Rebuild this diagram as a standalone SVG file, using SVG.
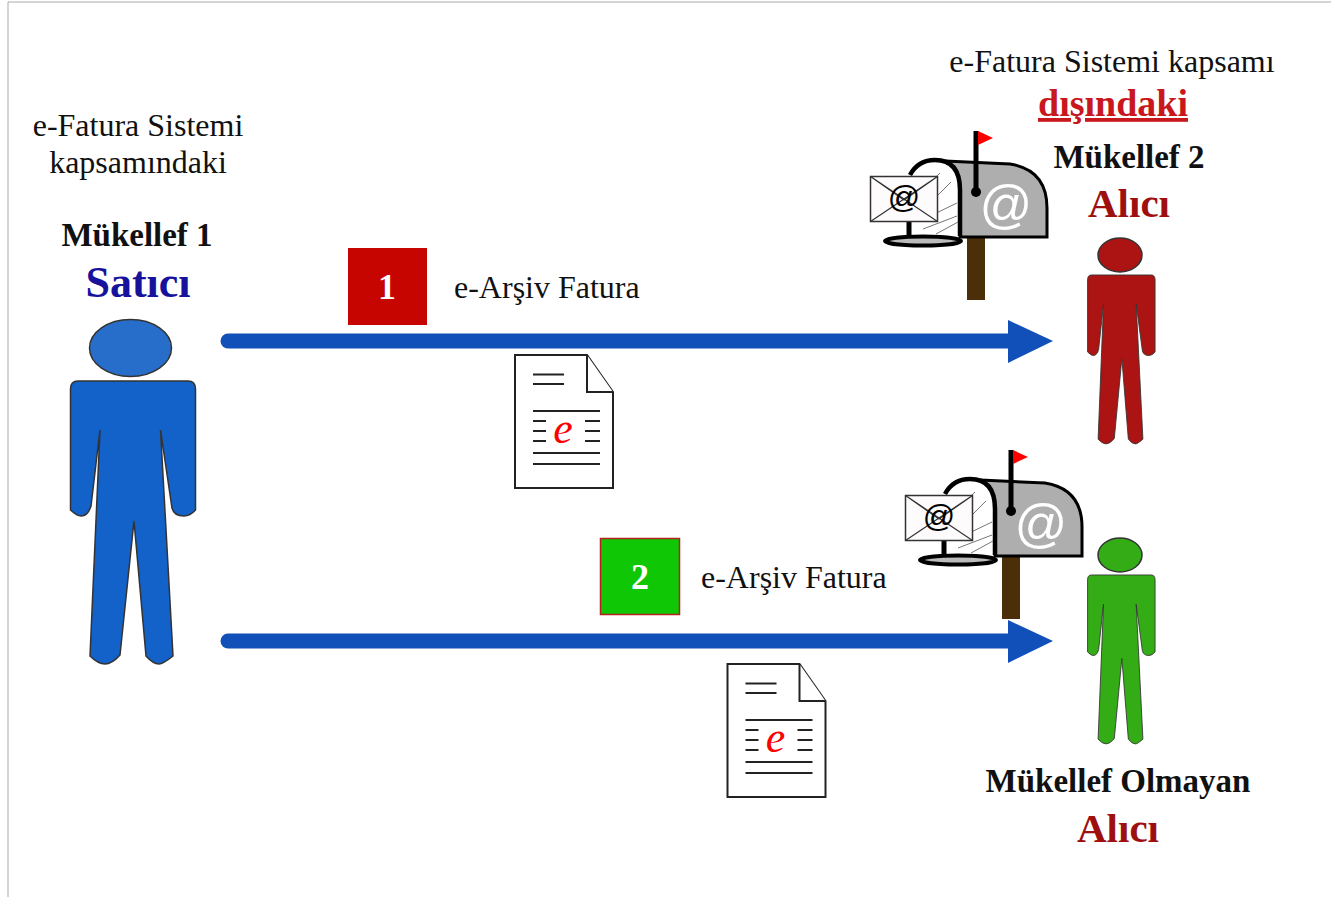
<svg xmlns="http://www.w3.org/2000/svg" xmlns:xlink="http://www.w3.org/1999/xlink" width="1331" height="897" viewBox="0 0 1331 897">
<style>
text{font-family:"Liberation Serif","Times New Roman",serif;fill:#111}
.m{text-anchor:middle}
.b{font-weight:bold}
.lab{font-size:32px}
.per{stroke:#333;stroke-width:1.5;vector-effect:non-scaling-stroke}
.doc{fill:#fff;stroke:#222;stroke-width:2}
.ln{stroke:#222;stroke-width:2;fill:none}
.arrow{stroke:#1150b8;stroke-width:15;stroke-linecap:round;fill:none}
.head{fill:#1150b8}
</style>
<defs>
<path id="body" d="M78,381H188Q195.5,381 195.5,389V510Q190,516 184,516Q174,516 172,508L160.500,430L173,656Q163,664 159,664Q153,664 146,656L134,521L120,655Q112,664 105,664Q98,664 90,656L100,430L91,506Q88,516 81,516Q77,516 70.500,510V389Q70.500,381 78,381Z"/>
<g id="mailbox">
<rect x="967" y="238" width="18" height="62" fill="#4a2f08"/>
<path d="M945,161L1010,164Q1047,170 1047,208V237H960V190Q960,170 945,161Z" fill="#aeaeae" stroke="#000" stroke-width="3"/>
<path d="M910,175Q918,160 935,160Q960,160 960,190V236H915Z" fill="#fff" stroke="none"/>
<path d="M910,175Q918,160 935,160Q960,160 960,190V236" fill="none" stroke="#000" stroke-width="4.500"/>
<path d="M924,188L940,173M933,200L951,182M928,217L957,203M923,229L957,216M936,234L958,222" stroke="#777" stroke-width="1" fill="none"/>
<line x1="909" y1="222" x2="909" y2="237" stroke="#000" stroke-width="5"/>
<ellipse cx="923" cy="241" rx="38" ry="4.500" fill="#bbb" stroke="#000" stroke-width="4"/>
<line x1="976" y1="131" x2="976" y2="192" stroke="#000" stroke-width="5"/>
<circle cx="976" cy="192" r="5"/>
<polygon points="978,131 993,138 978,145" fill="#f00"/>
<text x="1006" y="222" class="m" style="font-family:'Liberation Sans',sans-serif;font-size:52px;fill:#fff">@</text>
<rect x="870.500" y="176.500" width="67" height="45" fill="#fdfbfc" stroke="#333" stroke-width="1.500"/>
<path d="M870.500,176.500L937.500,221.500M937.500,176.500L870.500,221.500M870.500,176.500L904,200L937.500,176.500" stroke="#333" stroke-width="1.200" fill="none"/>
<text x="904" y="208" class="m" style="font-family:'Liberation Sans',sans-serif;font-size:32px;fill:#000">@</text>
</g>
<g id="doc">
<path class="doc" d="M515,355H587L613,392V488H515Z"/>
<path class="doc" d="M587,355V392H613" fill="none"/>
<path class="ln" d="M533,374.500H564M533,384H564M533,411H600M533,421H546M585,421H600M533,431H546M585,431H600M533,441H546M585,441H600M533,453H600M533,464H600"/>
<text x="563" y="443" class="m" style="font-size:44px;font-style:italic;fill:#f00">e</text>
</g>
</defs>
<path d="M8,897V2H1331" fill="none" stroke="#aaa" stroke-width="1"/>
<g id="connectors">
<path class="arrow" d="M228,341H1012"/><polygon class="head" points="1008,320 1053,341 1008,363"/>
<path class="arrow" d="M228,641H1012"/><polygon class="head" points="1008,620 1053,641 1008,663"/>
</g>
<g id="seller">
<text x="138" y="136" class="m lab">e-Fatura Sistemi</text>
<text x="138" y="173" class="m lab">kapsamındaki</text>
<text x="137" y="246" class="m b" style="font-size:33px">Mükellef 1</text>
<text x="138" y="297" class="m b" style="font-size:44px;fill:#16129c">Satıcı</text>
<ellipse cx="130.500" cy="348" rx="41" ry="28.500" fill="#276ecb" stroke="#333" stroke-width="1.500"/>
<use xlink:href="#body" href="#body" class="per" fill="#1262ca"/>
</g>
<g id="step1">
<rect x="348" y="248" width="79" height="77" fill="#c60400"/>
<text x="387" y="299" class="m b" style="font-size:36px;fill:#fff">1</text>
<text x="454" y="298" class="lab">e-Arşiv Fatura</text>
<use xlink:href="#doc" href="#doc"/>
</g>
<g id="step2">
<rect x="600.500" y="538.500" width="79" height="76" fill="#0fc705" stroke="#b5201c" stroke-width="1.500"/>
<text x="640" y="589" class="m b" style="font-size:36px;fill:#fff">2</text>
<text x="701" y="588" class="lab">e-Arşiv Fatura</text>
<use xlink:href="#doc" href="#doc" transform="translate(212.500,309)"/>
</g>
<g id="receiver1">
<text x="1112" y="72" class="m lab">e-Fatura Sistemi kapsamı</text>
<text x="1113" y="116" class="m b" style="font-size:38px;fill:#c8171d;text-decoration:underline">dışındaki</text>
<text x="1129" y="168" class="m b" style="font-size:33px">Mükellef 2</text>
<text x="1129" y="217" class="m b" style="font-size:41px;fill:#9e1010">Alıcı</text>
<use xlink:href="#mailbox" href="#mailbox"/>
<ellipse cx="1120" cy="255" rx="22" ry="17" fill="#ab1412" stroke="#333" stroke-width="1.500"/>
<use xlink:href="#body" href="#body" class="per" fill="#ab1412" transform="translate(1049.500,47.500) scale(0.54,0.597)"/>
</g>
<g id="receiver2">
<use xlink:href="#mailbox" href="#mailbox" transform="translate(35,319)"/>
<ellipse cx="1120" cy="555" rx="22" ry="17" fill="#33ac16" stroke="#333" stroke-width="1.500"/>
<use xlink:href="#body" href="#body" class="per" fill="#33ac16" transform="translate(1049.500,347.500) scale(0.54,0.597)"/>
<text x="1118" y="792" class="m b" style="font-size:33px">Mükellef Olmayan</text>
<text x="1118" y="842" class="m b" style="font-size:41px;fill:#9e1010">Alıcı</text>
</g>
</svg>
